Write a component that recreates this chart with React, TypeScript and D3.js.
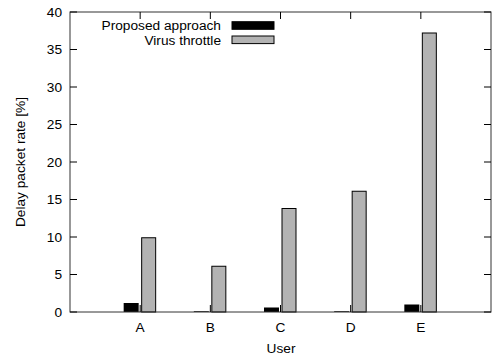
import * as d3 from 'd3'
import { useEffect, useRef } from 'react'

const users = ['A', 'B', 'C', 'D', 'E']
const proposed = [1.2, 0.1, 0.6, 0.1, 1.0]
const throttle = [9.9, 6.1, 13.8, 16.1, 37.2]
const yTicks = [0, 5, 10, 15, 20, 25, 30, 35, 40]

const App = () => {
  const ref = useRef<SVGSVGElement>(null)

  useEffect(() => {
    const svg = d3.select(ref.current)
    svg.selectAll('*').remove()

    const margin = { top: 12, right: 8, bottom: 46, left: 70 }
    const width = 499 - margin.left - margin.right
    const height = 358 - margin.top - margin.bottom
    const font = 'Liberation Sans, Arial, Helvetica, sans-serif'
    const fs = '13.7px'

    const x = d3.scaleLinear().domain([0, 6]).range([0, width])
    const y = d3.scaleLinear().domain([0, 40]).range([height, 0])

    const g = svg
      .append('g')
      .attr('transform', 'translate(' + margin.left + ',' + margin.top + ')')

    const barW = 15,
      gap = 3,
      tick = 7

    // bars
    g.selectAll('.prop')
      .data(proposed)
      .enter()
      .append('rect')
      .attr('x', (d, i) => x(i + 1) - gap / 2 - barW)
      .attr('y', (d) => y(d))
      .attr('width', barW)
      .attr('height', (d) => y(0) - y(d))
      .attr('fill', '#000')

    g.selectAll('.thr')
      .data(throttle)
      .enter()
      .append('rect')
      .attr('x', (d, i) => x(i + 1) + gap / 2)
      .attr('y', (d) => y(d))
      .attr('width', barW - 1)
      .attr('height', (d) => y(0) - y(d))
      .attr('fill', '#b3b3b3')
      .attr('stroke', '#000')
      .attr('stroke-width', 1)

    // frame
    g.append('rect')
      .attr('x', 0)
      .attr('y', 0)
      .attr('width', width)
      .attr('height', height)
      .attr('fill', 'none')
      .attr('stroke', '#333')
      .attr('stroke-width', 1)

    // y ticks left/right
    yTicks.forEach((t) => {
      g.append('line')
        .attr('x1', 0)
        .attr('x2', tick)
        .attr('y1', y(t))
        .attr('y2', y(t))
        .attr('stroke', '#000')
      g.append('line')
        .attr('x1', width)
        .attr('x2', width - tick)
        .attr('y1', y(t))
        .attr('y2', y(t))
        .attr('stroke', '#000')
      g.append('text')
        .attr('x', -8)
        .attr('y', y(t))
        .attr('dy', '0.36em')
        .attr('text-anchor', 'end')
        .style('font-family', font)
        .style('font-size', fs)
        .text(t)
    })

    // x ticks bottom/top
    users.forEach((u, i) => {
      g.append('line')
        .attr('x1', x(i + 1))
        .attr('x2', x(i + 1))
        .attr('y1', height)
        .attr('y2', height - tick)
        .attr('stroke', '#000')
      g.append('line')
        .attr('x1', x(i + 1))
        .attr('x2', x(i + 1))
        .attr('y1', 0)
        .attr('y2', tick)
        .attr('stroke', '#000')
      g.append('text')
        .attr('x', x(i + 1))
        .attr('y', height + 15)
        .attr('dy', '0.36em')
        .attr('text-anchor', 'middle')
        .style('font-family', font)
        .style('font-size', fs)
        .text(u)
    })

    // axis labels
    g.append('text')
      .attr('x', width / 2 + 0.5)
      .attr('y', height + 36)
      .attr('dy', '0.36em')
      .attr('text-anchor', 'middle')
      .style('font-family', font)
      .style('font-size', fs)
      .text('User')

    g.append('text')
      .attr('transform', 'translate(' + -50 + ',' + height / 2 + ') rotate(-90)')
      .attr('dy', '0.36em')
      .attr('text-anchor', 'middle')
      .style('font-family', font)
      .style('font-size', fs)
      .text('Delay packet rate [%]')

    // legend
    const legend = [
      { label: 'Proposed approach', fill: '#000' },
      { label: 'Virus throttle', fill: '#b3b3b3' },
    ]
    legend.forEach((l, i) => {
      const ly = 13.5 + i * 14.3
      g.append('text')
        .attr('x', 151)
        .attr('y', ly)
        .attr('dy', '0.36em')
        .attr('text-anchor', 'end')
        .style('font-family', font)
        .style('font-size', fs)
        .text(l.label)
      g.append('rect')
        .attr('x', 162)
        .attr('y', ly - 3.8)
        .attr('width', 42)
        .attr('height', 7.6)
        .attr('fill', l.fill)
        .attr('stroke', '#000')
        .attr('stroke-width', 1)
    })
  }, [])

  return (
    <svg
      ref={ref}
      width={499}
      height={358}
      style={{ position: 'absolute', left: 0, top: 0, background: '#fff' }}
    />
  )
}

export default App
